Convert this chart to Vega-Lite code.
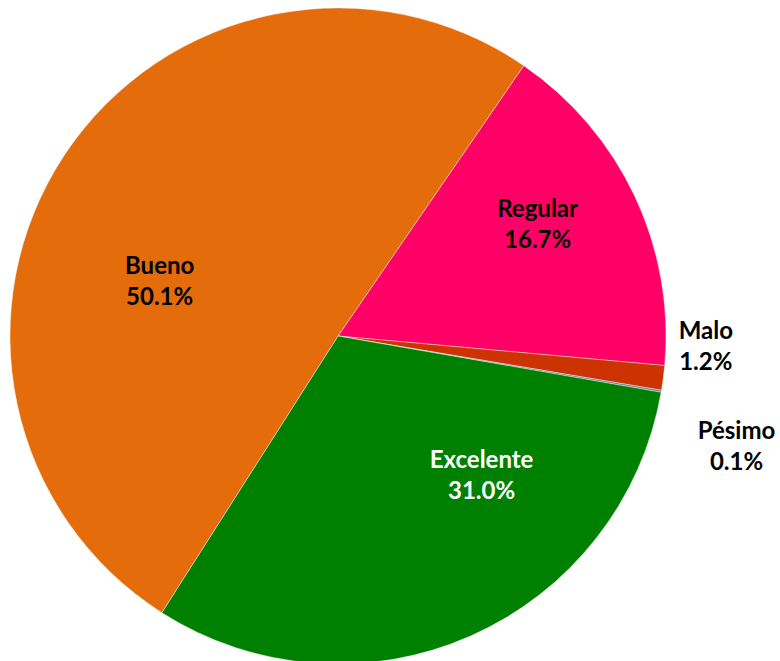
{
  "$schema": "https://vega.github.io/schema/vega-lite/v6.json",
  "width": 676,
  "height": 672,
  "padding": 0,
  "background": "white",
  "config": {"view": {"stroke": null}},
  "data": {"values": [
    {"categoria": "Regular", "porcentaje": 16.7, "orden": 1},
    {"categoria": "Malo", "porcentaje": 1.2, "orden": 2},
    {"categoria": "Pésimo", "porcentaje": 0.1, "orden": 3},
    {"categoria": "Excelente", "porcentaje": 31.0, "orden": 4},
    {"categoria": "Bueno", "porcentaje": 50.1, "orden": 5}
  ]},
  "transform": [
    {"stack": "porcentaje", "groupby": [], "sort": [{"field": "orden"}], "as": ["ini", "fin"]},
    {"calculate": "(datum.ini + datum.fin) / 2", "as": "medio"},
    {"calculate": "datum.categoria + '\\n' + format(datum.porcentaje, '.1f') + '%'", "as": "etiqueta"}
  ],
  "layer": [
    {
      "mark": {"type": "arc", "outerRadius": 328, "stroke": "white", "strokeWidth": 0.4},
      "encoding": {
        "theta": {"field": "ini", "type": "quantitative", "stack": null, "scale": {"domain": [0, 99.1], "range": [0.602, 6.8852]}},
        "theta2": {"field": "fin"},
        "color": {"field": "categoria", "type": "nominal", "legend": null,
          "scale": {"domain": ["Regular", "Malo", "Pésimo", "Excelente", "Bueno"],
                    "range": ["#FF0066", "#CC3300", "#6F7F99", "#008000", "#E46C0A"]}}
      }
    },
    {
      "transform": [{"filter": "datum.categoria === 'Bueno'"}],
      "mark": {"type": "text", "radius": 186, "thetaOffset": -0.297, "dy": -16, "font": "Lato", "fontWeight": "bold", "fontSize": 24, "lineBreak": "\n", "lineHeight": 31, "fill": "black", "align": "center", "baseline": "middle"},
      "encoding": {"theta": {"field": "medio", "type": "quantitative", "stack": null}, "text": {"field": "etiqueta"}}
    },
    {
      "transform": [{"filter": "datum.categoria === 'Regular'"}],
      "mark": {"type": "text", "radius": 228, "thetaOffset": -0.065, "dy": -16, "font": "Lato", "fontWeight": "bold", "fontSize": 24, "lineBreak": "\n", "lineHeight": 31, "fill": "black", "align": "center", "baseline": "middle"},
      "encoding": {"theta": {"field": "medio", "type": "quantitative", "stack": null}, "text": {"field": "etiqueta"}}
    },
    {
      "transform": [{"filter": "datum.categoria === 'Excelente'"}],
      "mark": {"type": "text", "radius": 201, "thetaOffset": -0.38, "dy": -16, "font": "Lato", "fontWeight": "bold", "fontSize": 24, "lineBreak": "\n", "lineHeight": 31, "fill": "white", "align": "center", "baseline": "middle"},
      "encoding": {"theta": {"field": "medio", "type": "quantitative", "stack": null}, "text": {"field": "etiqueta"}}
    },
    {
      "transform": [{"filter": "datum.categoria === 'Malo'"}],
      "mark": {"type": "text", "radius": 368, "thetaOffset": -0.096, "dy": -16, "font": "Lato", "fontWeight": "bold", "fontSize": 24, "lineBreak": "\n", "lineHeight": 31, "fill": "black", "align": "center", "baseline": "middle"},
      "encoding": {"theta": {"field": "medio", "type": "quantitative", "stack": null}, "text": {"field": "etiqueta"}}
    },
    {
      "transform": [{"filter": "datum.categoria === 'Pésimo'"}],
      "mark": {"type": "text", "radius": 414, "thetaOffset": 0.105, "dy": -16, "font": "Lato", "fontWeight": "bold", "fontSize": 24, "lineBreak": "\n", "lineHeight": 31, "fill": "black", "align": "center", "baseline": "middle"},
      "encoding": {"theta": {"field": "medio", "type": "quantitative", "stack": null}, "text": {"field": "etiqueta"}}
    }
  ]
}
